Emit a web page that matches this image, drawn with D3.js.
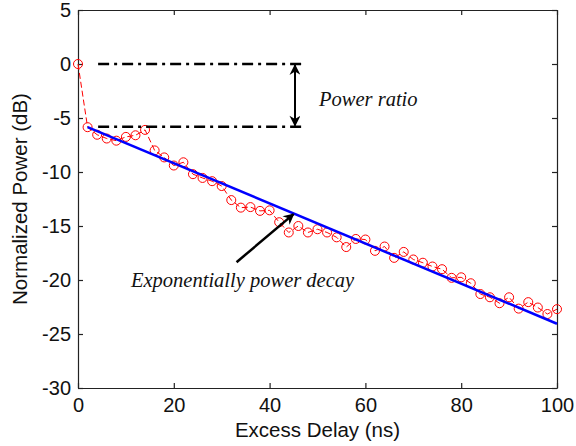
<!DOCTYPE html>
<html>
<head>
<meta charset="utf-8">
<script src="https://cdn.jsdelivr.net/npm/d3@7"></script>
<style>
  body { margin: 0; background: #fff; }
  svg { display: block; }
</style>
</head>
<body>
<div id="chart"></div>
<script>
/* Power delay profile: measured samples and the exponential fit */

// measured samples (ns, dB)
const delay = [0, 2, 4, 6, 8, 10, 12, 14, 16, 18, 20, 22, 24, 26, 28, 30, 32, 34, 36, 38, 40,
               42, 44, 46, 48, 50, 52, 54, 56, 58, 60, 62, 64, 66, 68, 70, 72, 74, 76, 78, 80,
               82, 84, 86, 88, 90, 92, 94, 96, 98, 100];
const power = [0, -5.85, -6.55, -6.9, -7.1, -6.75, -6.6, -6.1, -8.0, -8.65, -9.4, -9.1, -10.2,
               -10.55, -10.85, -11.3, -12.6, -13.3, -13.25, -13.6, -13.55, -14.65, -15.6, -15.0,
               -15.6, -15.3, -15.6, -16.05, -16.95, -16.2, -16.25, -17.3, -16.9, -17.95, -17.4,
               -18.1, -18.4, -18.75, -19.0, -19.8, -19.75, -20.3, -21.3, -21.6, -22.15, -21.6,
               -22.65, -22.05, -22.55, -23.15, -22.7];

// exponential decay fit (straight in dB)
const fitDelay = [2, 100];
const fitPower = [-5.85, -24.05];

// tick labels
const xTicks = [0, 20, 40, 60, 80, 100];
const yTicks = [5, 0, -5, -10, -15, -20, -25, -30];

// annotation anchors, in data units
const ratioTop = 0, ratioBottom = -5.8;
const ratioFrom = 4.2, ratioTo = 47.4, ratioArrowX = 45.3;

/* Size of the chart */
const width = 576,
      height = 446,
      margin = ({top: 10, right: 19, bottom: 58, left: 78});

let svg = d3.select("#chart")
            .append("svg")
            .attr("width", width)
            .attr("height", height);

let x = d3.scaleLinear()
          .domain([0, 100])
          .range([margin.left, width - margin.right]);

let y = d3.scaleLinear()
          .domain([-30, 5])
          .range([height - margin.bottom, margin.top]);

const font = "'Liberation Sans', Arial, sans-serif";
const serif = "'Liberation Serif', 'Times New Roman', serif";
const plain = d => String(d); // keep the ascii hyphen as minus sign

/* Axes, MATLAB style: box with inward ticks on all sides */
const styleAxis = g => {
    g.selectAll("path").attr("stroke", "#222").attr("stroke-width", 1.2);
    g.selectAll("line").attr("stroke", "#222").attr("stroke-width", 1.2);
    g.selectAll("text").attr("font-family", font).attr("font-size", 20).attr("fill", "#111");
};

svg.append("g")
   .attr("transform", `translate(0, ${y(-30)})`)
   .call(d3.axisBottom(x).tickValues(xTicks).tickFormat(plain)
           .tickSizeInner(-5).tickSizeOuter(0).tickPadding(10))
   .call(styleAxis);

svg.append("g")
   .attr("transform", `translate(0, ${y(5)})`)
   .call(d3.axisTop(x).tickValues(xTicks).tickSizeInner(-5).tickSizeOuter(0).tickFormat(""))
   .call(styleAxis);

svg.append("g")
   .attr("transform", `translate(${x(0)}, 0)`)
   .call(d3.axisLeft(y).tickValues(yTicks).tickFormat(plain)
           .tickSizeInner(-5).tickSizeOuter(0).tickPadding(7))
   .call(styleAxis);

svg.append("g")
   .attr("transform", `translate(${x(100)}, 0)`)
   .call(d3.axisRight(y).tickValues(yTicks).tickSizeInner(-5).tickSizeOuter(0).tickFormat(""))
   .call(styleAxis);

/* Axis titles */
svg.append("text")
   .attr("x", (x(0) + x(100)) / 2)
   .attr("y", 437)
   .attr("text-anchor", "middle")
   .attr("font-family", font)
   .attr("font-size", 20.5)
   .attr("fill", "#111")
   .text("Excess Delay (ns)");

svg.append("text")
   .attr("transform", `translate(27, ${(y(5) + y(-30)) / 2}) rotate(-90)`)
   .attr("text-anchor", "middle")
   .attr("font-family", font)
   .attr("font-size", 20.5)
   .attr("fill", "#111")
   .text("Normalized Power (dB)");

/* Measured profile: dashed red line with circles */
const samples = delay.map((d, i) => ({t: d, p: power[i]}));

svg.append("path")
   .datum(samples)
   .attr("fill", "none")
   .attr("stroke", "#ff0000")
   .attr("stroke-width", 1)
   .attr("stroke-dasharray", "6,3")
   .attr("d", d3.line().x(d => x(d.t)).y(d => y(d.p)));

svg.selectAll(".pt")
   .data(samples)
   .join("circle")
   .attr("class", "pt")
   .attr("cx", d => x(d.t))
   .attr("cy", d => y(d.p))
   .attr("r", 4.5)
   .attr("fill", "none")
   .attr("stroke", "#ff0000")
   .attr("stroke-width", 1);

/* Fitted decay */
const fit = fitDelay.map((d, i) => ({t: d, p: fitPower[i]}));

svg.append("path")
   .datum(fit)
   .attr("fill", "none")
   .attr("stroke", "#0000ff")
   .attr("stroke-width", 2.5)
   .attr("d", d3.line().x(d => x(d.t)).y(d => y(d.p)));

/* Power ratio annotation */
svg.append("defs").html(`
  <marker id="head2" viewBox="0 0 10 10" refX="9" refY="5" markerWidth="13" markerHeight="11"
          markerUnits="userSpaceOnUse" orient="auto-start-reverse">
    <path d="M0,0 L10,5 L0,10 L3,5 z" fill="#000"/>
  </marker>`);

[ratioTop, ratioBottom].forEach(level => {
    svg.append("line")
       .attr("x1", x(ratioFrom))
       .attr("x2", x(ratioTo))
       .attr("y1", y(level))
       .attr("y2", y(level))
       .attr("stroke", "#000")
       .attr("stroke-width", 2.5)
       .attr("stroke-dasharray", "11,5,3,5");
});

svg.append("line")
   .attr("x1", x(ratioArrowX))
   .attr("x2", x(ratioArrowX))
   .attr("y1", y(ratioTop) + 1)
   .attr("y2", y(ratioBottom) - 1)
   .attr("stroke", "#000")
   .attr("stroke-width", 2)
   .attr("marker-start", "url(#head2)")
   .attr("marker-end", "url(#head2)");

svg.append("text")
   .attr("x", 319)
   .attr("y", 106)
   .attr("font-family", serif)
   .attr("font-style", "italic")
   .attr("font-size", 20.5)
   .attr("fill", "#111")
   .text("Power ratio");

/* Decay annotation */
svg.append("line")
   .attr("x1", x(33.1))
   .attr("y1", y(-18.35))
   .attr("x2", x(45.0))
   .attr("y2", y(-13.9))
   .attr("stroke", "#000")
   .attr("stroke-width", 2.5)
   .attr("marker-end", "url(#head2)");

svg.append("text")
   .attr("x", 131)
   .attr("y", 287)
   .attr("font-family", serif)
   .attr("font-style", "italic")
   .attr("font-size", 20.5)
   .attr("fill", "#111")
   .text("Exponentially power decay");
</script>
</body>
</html>
